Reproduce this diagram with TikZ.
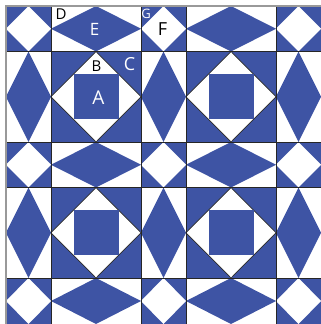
\documentclass[tikz,border=0pt]{standalone}
\usepackage{fontspec}
\setmainfont{Open Sans}
\definecolor{quiltblue}{RGB}{62,84,164}

\begin{document}
\begin{tikzpicture}[x=1pt,y=-1pt,
 patch/.style={fill=quiltblue},
 seam/.style={draw=black!85,line width=0.9pt},
 rim/.style={draw=black!40,line width=1.2pt},
 lbl/.style={inner sep=0pt,font=\fontsize{#1}{#1}\selectfont}]
\useasboundingbox (0,0) rectangle (321,324);
\fill[white] (0,0) rectangle (321,324);
% patches: small corner squares, side strips, large centre blocks
\foreach \xa/\xb [count=\i] in {6/51,51/141,141/186,186/276,276/321}{
 \foreach \ya/\yb [count=\j] in {6/51.5,51.5/142,142/187.5,187.5/278,278/324}{
  \pgfmathsetmacro\xm{(\xa+\xb)/2}
  \pgfmathsetmacro\ym{(\ya+\yb)/2}
  \ifodd\numexpr\i+\j\relax
   \fill[patch] (\xa,\ym) -- (\xm,\ya) -- (\xb,\ym) -- (\xm,\yb) -- cycle;
  \else
   \fill[patch] (\xa,\ya) rectangle (\xb,\yb);
   \fill[white] (\xa,\ym) -- (\xm,\ya) -- (\xb,\ym) -- (\xm,\yb) -- cycle;
   \ifodd\i\else
    \draw[seam,line width=0.7pt] (\xa,\ym) -- (\xm,\ya) -- (\xb,\ym) -- (\xm,\yb) -- cycle;
    \fill[patch] ({(\xa+\xm)/2},{(\ya+\ym)/2}) rectangle ({(\xm+\xb)/2},{(\ym+\yb)/2});
   \fi
  \fi
 }
}
% seams between blocks
\foreach \x in {51,141,186,276} \draw[seam] (\x,6) -- (\x,324);
\foreach \y in {51.5,142,187.5,278} \draw[seam] (6,\y) -- (321,\y);
\draw[rim] (6,324) -- (6,6) -- (321,6);
% patch letters
\node[lbl=15] (labD) at (61,14.5) {D};
\node[lbl=17,white] (labE) at (94.5,29.5) {E};
\node[lbl=13,white] (labG) at (146,14) {G};
\node[lbl=18] (labF) at (162.5,29.5) {F};
\node[lbl=15] (labB) at (96.5,66.5) {B};
\node[lbl=18,white] (labC) at (129.5,64.5) {C};
\node[lbl=19,white] (labA) at (98.5,97.5) {A};
\end{tikzpicture}
\end{document}
